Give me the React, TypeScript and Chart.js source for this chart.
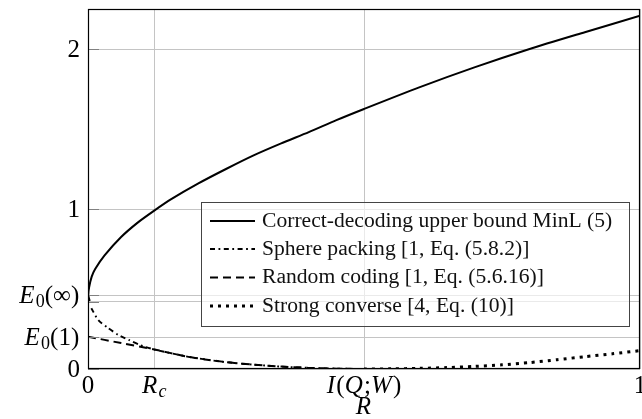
import React, { useEffect, useRef } from "react";
import { Chart, registerables } from "chart.js";

Chart.register(...registerables);

// ---- data ----
const correctR = [0.003, 0.0005, 0.002, 0.0067, 0.013, 0.03, 0.06, 0.09, 0.12, 0.15, 0.2, 0.25, 0.3, 0.35, 0.4, 0.45, 0.5, 0.6, 0.7, 0.8, 0.9, 1.0];
const correctE = [0.425, 0.4625, 0.51, 0.577, 0.625, 0.71, 0.825, 0.915, 0.99, 1.06, 1.16, 1.25, 1.335, 1.41, 1.48, 1.555, 1.625, 1.76, 1.885, 2.0, 2.105, 2.208];

const sphereR = [0.006, 0.0187, 0.035, 0.055, 0.075, 0.094, 0.12, 0.176, 0.212, 0.25, 0.3, 0.35, 0.4, 0.45, 0.5];
const sphereE = [0.38, 0.306, 0.26, 0.2125, 0.18, 0.15, 0.122, 0.08, 0.06, 0.043, 0.027, 0.015, 0.007, 0.002, 0.0];

const randomR = [0.0, 0.06, 0.12, 0.176, 0.212, 0.25, 0.3, 0.35, 0.4, 0.45, 0.5];
const randomE = [0.202, 0.162, 0.122, 0.08, 0.06, 0.043, 0.027, 0.015, 0.007, 0.002, 0.0];

const strongR = [0.5, 0.55, 0.6, 0.65, 0.7, 0.75, 0.8, 0.85, 0.9, 0.95, 1.0];
const strongE = [0.0, 0.001, 0.004, 0.009, 0.016, 0.026, 0.04, 0.058, 0.077, 0.095, 0.115];

const seriesLabels = [
  "Correct-decoding upper bound MinL (5)",
  "Sphere packing [1, Eq. (5.8.2)]",
  "Random coding [1, Eq. (5.6.16)]",
  "Strong converse [4, Eq. (10)]",
];

const xTickValues = [0, 0.12, 0.5, 1];
const yTickValues = [0, 0.2, 0.42, 0.4625, 1, 2];

type Part = [string, "i" | "r" | "s" | "si"];
const xTickLabels: Part[][] = [
  [["0", "r"]],
  [["R", "i"], ["c", "si"]],
  [["I", "i"], ["(", "r"], ["Q", "i"], [";", "r"], ["W", "i"], [")", "r"]],
  [["1", "r"]],
];
const yTickLabels: Part[][] = [
  [["0", "r"]],
  [["E", "i"], ["0", "s"], ["(1)", "r"]],
  [],
  [["E", "i"], ["0", "s"], ["(∞)", "r"]],
  [["1", "r"]],
  [["2", "r"]],
];
const xTitle: Part[] = [["R", "i"]];

const FONT = "'Liberation Serif', 'Times New Roman', serif";
const LABEL_SIZE = 25;

function fontFor(style: string, size: number) {
  if (style === "i") return `italic ${size}px ${FONT}`;
  if (style === "s") return `${Math.round(size * 0.72)}px ${FONT}`;
  if (style === "si") return `italic ${Math.round(size * 0.72)}px ${FONT}`;
  return `${size}px ${FONT}`;
}

function drawParts(ctx: CanvasRenderingContext2D, parts: Part[], x: number, y: number, align: "left" | "center" | "right", size: number) {
  ctx.textBaseline = "middle";
  ctx.textAlign = "left";
  let total = 0;
  const ws: number[] = [];
  for (const [t, s] of parts) {
    ctx.font = fontFor(s, size);
    const w = ctx.measureText(t).width + (s === "i" ? size * 0.05 : s === "r" && t.length > 1 ? size * 0.03 : 0);
    ws.push(w);
    total += w;
  }
  let cx = align === "left" ? x : align === "center" ? x - total / 2 : x - total;
  parts.forEach(([t, s], i) => {
    ctx.font = fontFor(s, size);
    ctx.fillText(t, cx, s === "s" || s === "si" ? y + size * 0.26 : y);
    cx += ws[i];
  });
}

const dashes: number[][] = [[], [5, 3.5, 1.8, 3.5], [8, 5], [3, 5]];
const widths = [2, 1.9, 2, 3];

const overlay = {
  id: "overlay",
  afterDraw(chart: any) {
    const ctx: CanvasRenderingContext2D = chart.ctx;
    const xs = chart.scales.x;
    const ys = chart.scales.y;
    const a = chart.chartArea;
    ctx.save();
    // y tick marks inside
    ctx.strokeStyle = "#808080";
    ctx.lineWidth = 1;
    yTickValues.forEach((v) => {
      const py = Math.round(ys.getPixelForValue(v)) + 0.5;
      ctx.beginPath();
      ctx.moveTo(a.left, py);
      ctx.lineTo(a.left + 11, py);
      ctx.stroke();
    });
    // frame
    ctx.strokeStyle = "#000";
    ctx.lineWidth = 1.2;
    ctx.strokeRect(a.left + 0.5, a.top + 0.5, a.right - a.left - 1, a.bottom - a.top - 1);
    // tick labels
    ctx.fillStyle = "#000";
    yTickValues.forEach((v, i) => {
      const lab = yTickLabels[i];
      if (!lab.length) return;
      drawParts(ctx, lab, 80, ys.getPixelForValue(v) + 1, "right", LABEL_SIZE);
    });
    xTickValues.forEach((v, i) => {
      drawParts(ctx, xTickLabels[i], xs.getPixelForValue(v), 386, "center", LABEL_SIZE);
    });
    drawParts(ctx, xTitle, (a.left + a.right) / 2, 407, "center", LABEL_SIZE);

    // legend
    const bx = 201, by = 202, bw = 428, bh = 124;
    ctx.fillStyle = "rgba(255,255,255,0.65)";
    ctx.fillRect(bx, by, bw, bh);
    ctx.strokeStyle = "#444";
    ctx.lineWidth = 1;
    ctx.strokeRect(bx + 0.5, by + 0.5, bw, bh);
    const rows = [221, 249, 277.5, 306];
    chart.data.datasets.forEach((ds: any, i: number) => {
      ctx.strokeStyle = "#000";
      ctx.lineWidth = widths[i];
      ctx.setLineDash(dashes[i]);
      ctx.beginPath();
      ctx.moveTo(210, rows[i]);
      ctx.lineTo(255, rows[i]);
      ctx.stroke();
      ctx.setLineDash([]);
      ctx.fillStyle = "#111";
      ctx.font = `21.6px ${FONT}`;
      ctx.textBaseline = "middle";
      ctx.textAlign = "left";
      ctx.fillText(ds.label, 262, rows[i]);
    });
    ctx.restore();
  },
};

function pts(xs: number[], ys: number[]) {
  return xs.map((x, i) => ({ x, y: ys[i] }));
}

export default function App() {
  const ref = useRef<HTMLCanvasElement>(null);
  useEffect(() => {
    if (!ref.current) return;
    const sets = [
      pts(correctR, correctE),
      pts(sphereR, sphereE),
      pts(randomR, randomE),
      pts(strongR, strongE),
    ];
    const chart = new Chart(ref.current, {
      type: "scatter",
      data: {
        datasets: sets.map((d, i) => ({
          label: seriesLabels[i],
          data: d,
          showLine: true,
          borderColor: "#000",
          borderWidth: widths[i],
          borderDash: dashes[i],
          pointRadius: 0,
          tension: 0.25,
          fill: false,
        })),
      },
      options: {
        animation: false,
        responsive: false,
        devicePixelRatio: 1,
        layout: { padding: { left: 0, right: 2, top: 9, bottom: 0 } },
        plugins: { legend: { display: false }, tooltip: { enabled: false } },
        scales: {
          x: {
            type: "linear",
            min: 0,
            max: 1,
            ticks: { display: false },
            grid: { color: "#c4c4c4", drawTicks: false, lineWidth: 1 },
            border: { display: false },
            afterBuildTicks: (s: any) => {
              s.ticks = xTickValues.map((v) => ({ value: v }));
            },
            afterFit: (s: any) => {
              s.height = 50;
            },
          },
          y: {
            type: "linear",
            min: 0,
            max: 2.25,
            ticks: { display: false },
            grid: { color: "#c4c4c4", drawTicks: false, lineWidth: 1 },
            border: { display: false },
            afterBuildTicks: (s: any) => {
              s.ticks = yTickValues.map((v) => ({ value: v }));
            },
            afterFit: (s: any) => {
              s.width = 88;
            },
          },
        },
      },
      plugins: [overlay],
    });
    return () => chart.destroy();
  }, []);
  return (
    <div style={{ position: "absolute", left: 0, top: 0, width: 642, height: 419, background: "#fff" }}>
      <canvas ref={ref} width={642} height={419} />
    </div>
  );
}
